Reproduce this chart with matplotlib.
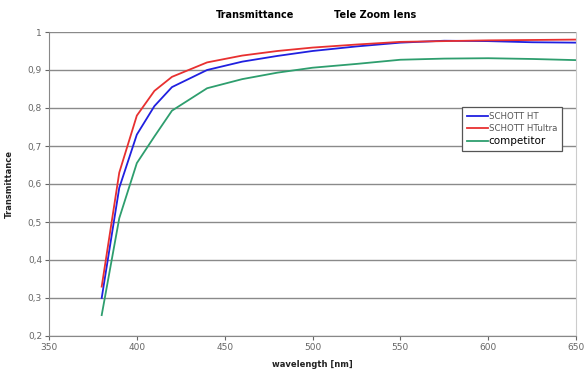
import matplotlib
matplotlib.use("Agg")
import matplotlib.pyplot as plt
from matplotlib.ticker import FuncFormatter

wavelength = [380, 390, 400, 410, 420, 440, 460, 480, 500, 525, 550, 575, 600, 625, 650]
schott_ht = [0.300, 0.590, 0.730, 0.805, 0.855, 0.900, 0.922, 0.937, 0.950, 0.962, 0.972, 0.977, 0.976, 0.973, 0.972]
schott_htultra = [0.330, 0.630, 0.780, 0.845, 0.882, 0.920, 0.938, 0.950, 0.959, 0.967, 0.974, 0.976, 0.978, 0.979, 0.980]
competitor = [0.255, 0.510, 0.655, 0.725, 0.793, 0.852, 0.876, 0.893, 0.906, 0.916, 0.927, 0.930, 0.931, 0.929, 0.926]

series_names = ["SCHOTT HT", "SCHOTT HTultra", "competitor"]
series_colors = ["#2020e0", "#e83030", "#2e9e6e"]

plt.rcParams['font.family'] = ['DejaVu Sans']
fig = plt.figure(figsize=(5.88, 3.70), dpi=100)
ax = fig.add_axes([49/588, 1-336/370, (576-49)/588, (336-32)/370])

for y, name, c in zip([schott_ht, schott_htultra, competitor], series_names, series_colors):
    ax.plot(wavelength, y, color=c, lw=1.3, label=name)

ax.set_xlim(350, 650)
ax.set_ylim(0.2, 1.0)
ax.set_xticks(range(350, 651, 50))
ax.set_yticks([0.2 + 0.1*i for i in range(9)])
ax.yaxis.set_major_formatter(FuncFormatter(lambda v, p: "1" if abs(v-1) < 1e-9 else f"{v:.1f}".replace(".", ",")))
ax.grid(axis='y', color='#8a8a8a', lw=1.0)
ax.set_axisbelow(True)
for s in ['left', 'bottom']:
    ax.spines[s].set_color('#888888')
ax.spines['right'].set_color('#cccccc')
ax.spines['top'].set_visible(False)
ax.tick_params(axis='both', labelsize=6.5, colors='#666666', length=3, width=0.8, pad=2)

ax.set_xlabel("wavelength [nm]", fontsize=6, fontweight='bold', labelpad=6, color='#222222')
ax.set_ylabel("Transmittance", fontsize=6, fontweight='bold', labelpad=10, color='#222222')

fig.text(255/588, 1-15/370, "Transmittance", fontsize=7, fontweight='bold', ha='center', va='center')
fig.text(375/588, 1-15/370, "Tele Zoom lens", fontsize=7, fontweight='bold', ha='center', va='center')

leg = ax.legend(loc='upper left', bbox_to_anchor=((458-49)/527, (336-103)/304), fontsize=6.2,
                frameon=True, fancybox=False, edgecolor='#555555', framealpha=1,
                handlelength=2.4, handletextpad=0.1, borderpad=0.55, labelspacing=0.35)
leg.get_frame().set_linewidth(0.9)
for t in leg.get_texts()[:2]:
    t.set_color('#555555')
leg.get_texts()[2].set_fontsize(7.5)

fig.savefig("out.png", dpi=100)
